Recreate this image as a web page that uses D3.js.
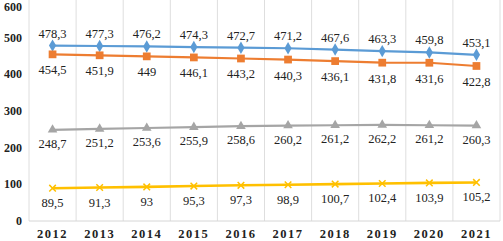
<!DOCTYPE html>
<html>
<head>
<meta charset="utf-8">
<script src="https://cdn.jsdelivr.net/npm/d3@7"></script>
<style>
  html, body { margin: 0; padding: 0; background: #fff; }
  svg { display: block; }
</style>
</head>
<body>
<div id="chart"></div>
<script>
const years = ["2012", "2013", "2014", "2015", "2016", "2017", "2018", "2019", "2020", "2021"];
const blueValues = [478.3, 477.3, 476.2, 474.3, 472.7, 471.2, 467.6, 463.3, 459.8, 453.1];
const orangeValues = [454.5, 451.9, 449, 446.1, 443.2, 440.3, 436.1, 431.8, 431.6, 422.8];
const grayValues = [248.7, 251.2, 253.6, 255.9, 258.6, 260.2, 261.2, 262.2, 261.2, 260.3];
const yellowValues = [89.5, 91.3, 93, 95.3, 97.3, 98.9, 100.7, 102.4, 103.9, 105.2];
const yTicks = [0, 100, 200, 300, 400, 500, 600];

const series = [
  { values: blueValues, color: "#5b9bd5", marker: d3.symbolDiamond, size: 45, labelDy: -8 },
  { values: orangeValues, color: "#ed7d31", marker: d3.symbolSquare, size: 60, labelDy: 20 },
  { values: grayValues, color: "#a5a5a5", marker: d3.symbolTriangle, size: 40, labelDy: 18 },
  { values: yellowValues, color: "#ffc000", marker: d3.symbolX, size: 30, labelDy: 19, stroke: true }
];

const width = 503;
const height = 241;
const left = 29;
const right = 500;

const svg = d3.select("#chart")
  .append("svg")
  .attr("width", width)
  .attr("height", height);

const x = d3.scaleBand().domain(years).range([left, right]);
const y = d3.scaleLinear().domain([0, 600]).range([221, 1]);

// vertical gridlines at category edges
const edges = years.map((d) => x(d)).concat([right]);
svg.append("g")
  .selectAll("line")
  .data(edges)
  .join("line")
  .attr("x1", (d) => d).attr("x2", (d) => d)
  .attr("y1", 0).attr("y2", y(0))
  .attr("stroke", "#dedede")
  .attr("stroke-width", 1);

svg.append("line")
  .attr("x1", left).attr("x2", right)
  .attr("y1", y(0)).attr("y2", y(0))
  .attr("stroke", "#d6d6d6");

// y labels (top one nudged down so it stays on the page)
svg.append("g")
  .selectAll("text")
  .data(yTicks)
  .join("text")
  .attr("x", 22)
  .attr("y", (d) => Math.max(y(d) + 4, 11))
  .attr("text-anchor", "end")
  .attr("font-family", "Liberation Serif, serif")
  .attr("font-weight", "bold")
  .attr("font-size", 12)
  .attr("fill", "#222")
  .text((d) => d);

// x labels
svg.append("g")
  .selectAll("text")
  .data(years)
  .join("text")
  .attr("x", (d) => x(d) + x.bandwidth() / 2)
  .attr("y", 238)
  .attr("text-anchor", "middle")
  .attr("font-family", "Liberation Serif, serif")
  .attr("font-weight", "bold")
  .attr("font-size", 12.5)
  .attr("letter-spacing", 1.5)
  .attr("fill", "#222")
  .text((d) => d);

const line = d3.line()
  .x((d, i) => x(years[i]) + x.bandwidth() / 2)
  .y((d) => y(d));

series.forEach((s) => {
  const g = svg.append("g");
  g.append("path")
    .attr("d", line(s.values))
    .attr("fill", "none")
    .attr("stroke", s.color)
    .attr("stroke-width", s.stroke ? 2.6 : 2.2);

  g.selectAll("path.marker")
    .data(s.values)
    .join("path")
    .attr("class", "marker")
    .attr("transform", (d, i) => `translate(${x(years[i]) + x.bandwidth() / 2},${y(d)})`)
    .attr("d", d3.symbol().type(s.marker).size(s.size))
    .attr("fill", s.stroke ? "none" : s.color)
    .attr("stroke", s.color)
    .attr("stroke-width", s.stroke ? 1.5 : 0);

  g.selectAll("text")
    .data(s.values)
    .join("text")
    .attr("x", (d, i) => x(years[i]) + x.bandwidth() / 2)
    .attr("y", (d) => y(d) + s.labelDy)
    .attr("text-anchor", "middle")
    .attr("font-family", "Liberation Serif, serif")
    .attr("font-size", 12.5)
    .attr("fill", "#222")
    .text((d) => String(d).replace(".", ","));
});
</script>
</body>
</html>
